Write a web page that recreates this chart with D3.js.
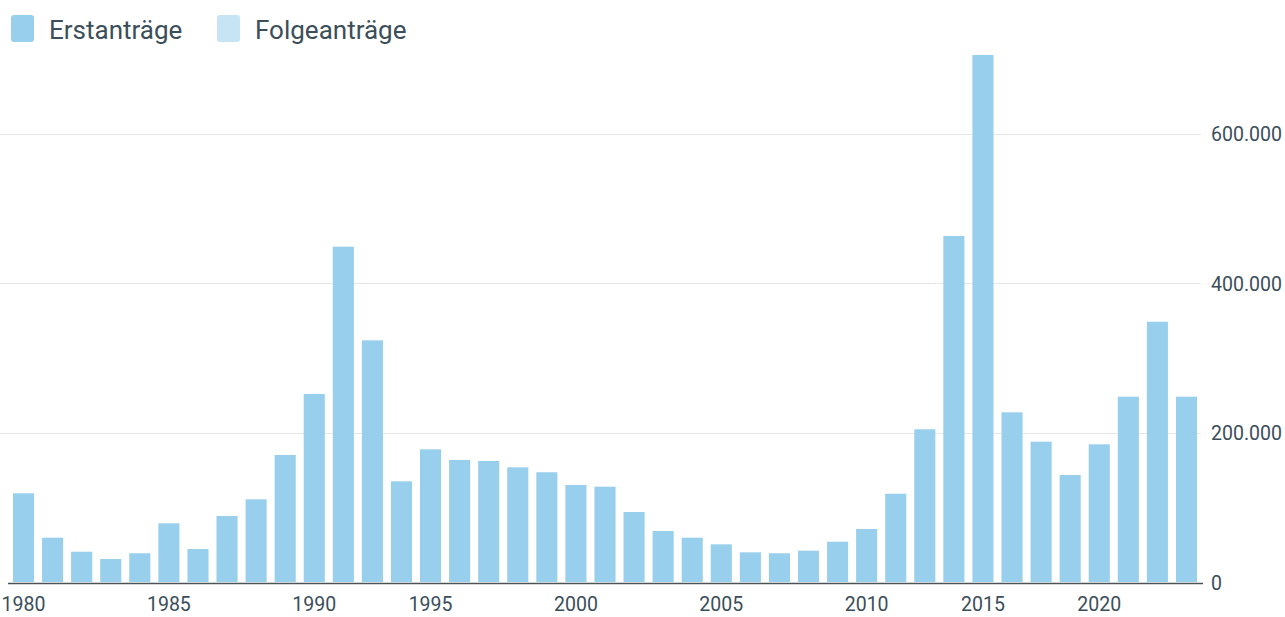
<!DOCTYPE html>
<html>
<head>
<meta charset="utf-8">
<script src="https://cdn.jsdelivr.net/npm/d3@7"></script>
<style>
  html, body { margin: 0; padding: 0; background: #fff; }
  svg { display: block; font-family: Roboto, "Noto Sans", sans-serif; }
</style>
</head>
<body>
<svg id="chart"></svg>
<script>
// bars as they appear in the picture (41 bars, tick labels sit on these)
const years = ["1980","1981","1982","1983","1984","1985","1986","1987","1988","1989",
  "1990","1991","1992","1993","1995","1996","1997","1998","1999","2000",
  "2001","2002","2003","2004","2005","2006","2007","2008","2009","2010",
  "2011","2012","2013","2015","2016","2017","2018","2020","2021","2022","2023"];
const erstantraege = [118700, 59300, 40500, 30800, 38400, 78500, 44100, 88300, 110600, 169900,
  251500, 448600, 323300, 134700, 177500, 163200, 161900, 153400, 146800, 129800,
  127500, 93600, 68200, 59300, 50400, 39700, 38400, 41900, 53900, 70900,
  118100, 204300, 462900, 705000, 227000, 187700, 143100, 184200, 247900, 348200, 247900];
const folgeantraege = years.map(() => 0);
const xTicks = ["1980","1985","1990","1995","2000","2005","2010","2015","2020"];
const yTicks = [0, 200000, 400000, 600000];
const seriesNames = ["Erstanträge", "Folgeanträge"];

const width = 1285, height = 617;
const colors = ["#97cfec", "#c6e4f4"];
const textColor = "#3b4e5a";

const svg = d3.select("#chart").attr("width", width).attr("height", height);

const x = d3.scaleBand()
  .domain(years)
  .range([9, 1201])
  .paddingInner(0.275)
  .paddingOuter(0.1375);

const y = d3.scaleLinear()
  .domain([0, 600000])
  .range([582, 133.5]);

// gridlines
svg.append("g")
  .selectAll("line")
  .data(yTicks.filter(d => d > 0))
  .enter().append("line")
  .attr("x1", 0)
  .attr("x2", 1201)
  .attr("y1", d => Math.round(y(d)) + 0.5)
  .attr("y2", d => Math.round(y(d)) + 0.5)
  .attr("stroke", "#e7e7e7")
  .attr("stroke-width", 1.2);

// stacked bars
const stacked = years.map((yr, i) => ({ year: yr, e: erstantraege[i], f: folgeantraege[i] }));

svg.append("g")
  .selectAll("rect.e")
  .data(stacked)
  .enter().append("rect")
  .attr("class", "e")
  .attr("x", d => x(d.year))
  .attr("width", x.bandwidth())
  .attr("y", d => y(d.e))
  .attr("height", d => y(0) - y(d.e))
  .attr("fill", colors[0]);

svg.append("g")
  .selectAll("rect.f")
  .data(stacked)
  .enter().append("rect")
  .attr("class", "f")
  .attr("x", d => x(d.year))
  .attr("width", x.bandwidth())
  .attr("y", d => y(d.e + d.f))
  .attr("height", d => y(d.e) - y(d.e + d.f))
  .attr("fill", colors[1]);

// x axis
const xAxis = svg.append("g")
  .attr("transform", `translate(0,${y(0) + 1.5})`)
  .call(d3.axisBottom(x).tickValues(xTicks).tickSize(0).tickPadding(14));
xAxis.select(".domain")
  .attr("d", "M8,0H1203")
  .attr("stroke", "#4a5358")
  .attr("stroke-width", 1.6);
xAxis.selectAll("text")
  .attr("fill", textColor)
  .style("font-size", "19.5px")
  .style("font-family", "Roboto, sans-serif");

// y axis on the right
const fmt = d => d3.format(",")(d).replace(/,/g, ".");
const yAxis = svg.append("g")
  .attr("transform", "translate(1211,0)")
  .call(d3.axisRight(y).tickValues(yTicks).tickFormat(fmt).tickSize(0).tickPadding(0));
yAxis.select(".domain").remove();
yAxis.selectAll("text")
  .attr("fill", textColor)
  .attr("dy", "0.36em")
  .style("font-size", "19.5px")
  .style("font-family", "Roboto, sans-serif");

// legend
const legend = svg.append("g")
  .selectAll("g")
  .data(seriesNames)
  .enter().append("g")
  .attr("transform", (d, i) => `translate(${i === 0 ? 11 : 217},15)`);

legend.append("rect")
  .attr("width", 23)
  .attr("height", 27)
  .attr("rx", 3)
  .attr("fill", (d, i) => colors[i]);

legend.append("text")
  .attr("x", 38)
  .attr("y", 24)
  .attr("fill", textColor)
  .style("font-size", "26px")
  .text(d => d);
</script>
</body>
</html>
